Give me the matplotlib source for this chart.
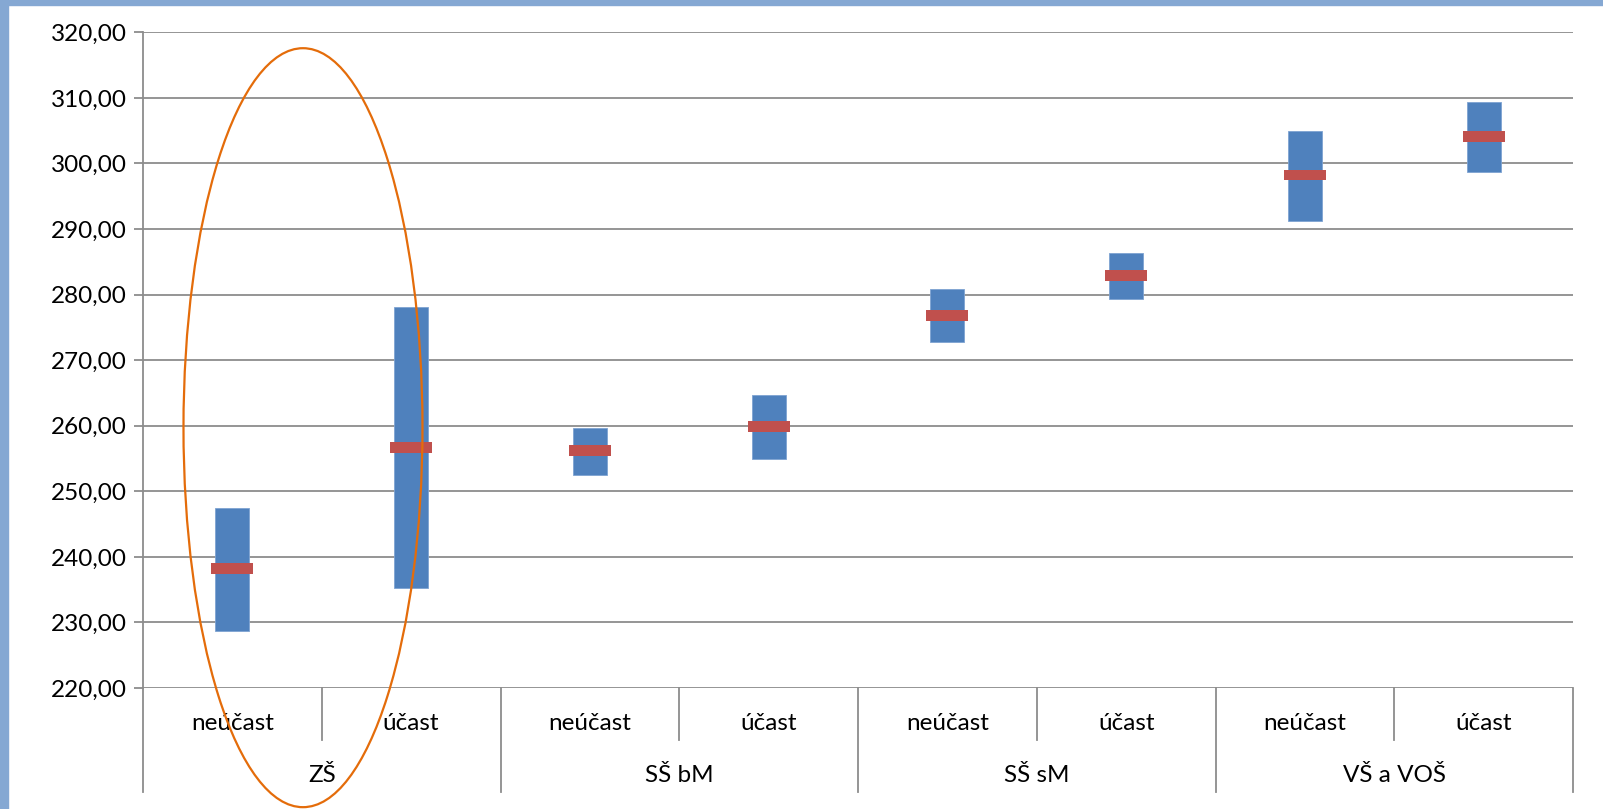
import matplotlib
matplotlib.use("Agg")
import matplotlib.pyplot as plt
import matplotlib.transforms as mtransforms
from matplotlib.patches import Ellipse, Rectangle
import numpy as np

plt.rcParams["font.family"] = ["Lato", "DejaVu Sans"]

# data
groups = ["ZŠ", "SŠ bM", "SŠ sM", "VŠ a VOŠ"]
subcats = ["neúčast", "účast"]
lows = [228.7, 235.2, 252.5, 254.9, 272.8, 279.3, 291.2, 298.7]
highs = [247.4, 278.1, 259.7, 264.7, 280.8, 286.4, 305.0, 309.4]
means = [238.2, 256.7, 256.2, 259.9, 276.8, 282.9, 298.2, 304.1]
yticks = [220, 230, 240, 250, 260, 270, 280, 290, 300, 310, 320]

W, H = 1603, 809
fs = 17.5
fig = plt.figure(figsize=(W / 100, H / 100), dpi=100)

# light blue frame on the left and top
fig.patches.append(Rectangle((0, 0), 8 / W, 1, transform=fig.transFigure,
                             color="#85A8D3", zorder=0))
fig.patches.append(Rectangle((0, 1 - 5 / H), 1, 5 / H, transform=fig.transFigure,
                             color="#85A8D3", zorder=0))

ax = fig.add_axes([143 / W, (H - 688) / H, (1573 - 143) / W, (688 - 32.3) / H])

x = np.arange(len(lows))
lows_a = np.array(lows)
highs_a = np.array(highs)
means_a = np.array(means)

ax.bar(x, highs_a - lows_a, bottom=lows_a, width=0.19, color="#4F81BD",
       edgecolor="#7EA3D2", linewidth=0.6, zorder=3)
mh = 1.6
ax.bar(x, mh, bottom=means_a - mh / 2, width=0.235, color="#C0504D", zorder=4)

ax.set_xlim(-0.5, len(lows) - 0.5)
ax.set_ylim(220, 320)
ax.set_yticks(yticks)
ax.set_yticklabels([f"{v:.2f}".replace(".", ",") for v in yticks], fontsize=fs)
ax.yaxis.grid(True, color="#8C8C8C", linewidth=1.3, zorder=1)
ax.set_axisbelow(True)
ax.tick_params(axis="y", length=6.5, width=1.3, color="#8C8C8C", pad=5)
ax.set_xticks([])
for s in ["top", "right", "bottom"]:
    ax.spines[s].set_visible(False)
ax.spines["left"].set_color("#8C8C8C")
ax.spines["left"].set_linewidth(1.3)

# two level category axis
trans = mtransforms.blended_transform_factory(ax.transData, ax.transAxes)
inner_y = -52 / 655.7
outer_y = -103.7 / 655.7
for i in range(len(groups)):
    ax.plot([2 * i + 0.5] * 2, [0, inner_y], transform=trans, color="#8C8C8C",
            lw=1.3, clip_on=False)
for i in range(len(groups) + 1):
    ax.plot([2 * i - 0.5] * 2, [0, outer_y], transform=trans, color="#8C8C8C",
            lw=1.3, clip_on=False)
for i in x:
    ax.text(i, -35 / 655.7, subcats[i % 2], transform=trans, ha="center",
            va="center", fontsize=fs)
for i, g in enumerate(groups):
    ax.text(2 * i + 0.5, -87.7 / 655.7, g, transform=trans, ha="center",
            va="center", fontsize=fs)

# orange ellipse around ZŠ
ax.add_patch(Ellipse((0.395, 259.7), 1.337, 115.75, fill=False,
                     edgecolor="#E46C0A", linewidth=1.6, clip_on=False, zorder=6))

fig.savefig("out.png", dpi=100, facecolor="white")
